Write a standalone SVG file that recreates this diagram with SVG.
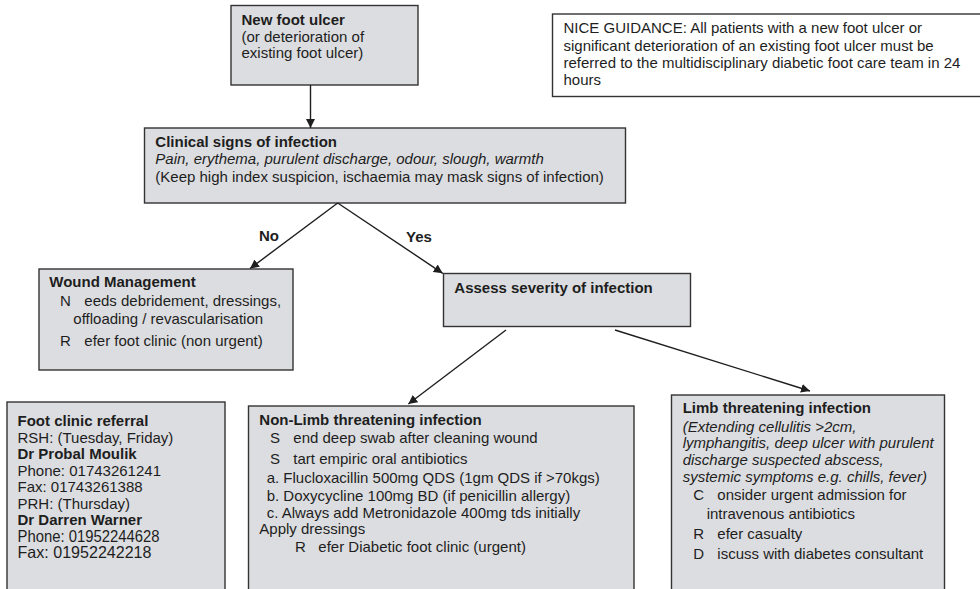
<svg xmlns="http://www.w3.org/2000/svg" width="980" height="589" viewBox="0 0 980 589">
<defs>
<style>
.box{fill:#dcdde0;stroke:#333;stroke-width:1.4}
.nice{fill:#fff;stroke:#333;stroke-width:1.4}
text{font-family:"Liberation Sans",Arial,sans-serif;font-size:15px;fill:#1e1e1e}
.b{font-weight:bold}
.i{font-style:italic}
.big{font-size:16.5px}
.conn line{stroke:#1e1e1e;stroke-width:1.4;fill:none}
</style>
<marker id="ah" viewBox="0 0 10 10" refX="10" refY="5" markerWidth="9" markerHeight="9" markerUnits="userSpaceOnUse" orient="auto">
<path d="M0,0 L10,5 L0,10 z" fill="#1e1e1e"/>
</marker>
</defs>
<rect width="980" height="589" fill="#fff"/>

<g id="new-ulcer">
<rect class="box" x="231" y="5.5" width="187" height="79.5"/>
<text x="241.5" y="25" class="b">New foot ulcer</text>
<text x="241.5" y="41.5">(or deterioration of</text>
<text x="241.5" y="58">existing foot ulcer)</text>
</g>

<g id="nice">
<rect class="nice" x="552.5" y="14" width="430" height="82.5"/>
<text x="563.5" y="33">NICE GUIDANCE: All patients with a new foot ulcer or</text>
<text x="563.5" y="50.5">significant deterioration of an existing foot ulcer must be</text>
<text x="563.5" y="68">referred to the multidisciplinary diabetic foot care team in 24</text>
<text x="563.5" y="85.3">hours</text>
</g>

<g id="clinical">
<rect class="box" x="144.5" y="128" width="481" height="75"/>
<text x="155.3" y="146.7" class="b">Clinical signs of infection</text>
<text x="155.3" y="164" class="i">Pain, erythema, purulent discharge, odour, slough, warmth</text>
<text x="155.3" y="181.7">(Keep high index suspicion, ischaemia may mask signs of infection)</text>
</g>

<g id="wound">
<rect class="box" x="39" y="269" width="254" height="101"/>
<text x="49.3" y="286.7" class="b">Wound Management</text>
<text x="60" y="306">N</text>
<text x="84.3" y="306">eeds debridement, dressings,</text>
<text x="73.3" y="324">offloading / revascularisation</text>
<text x="60" y="346">R</text>
<text x="84.3" y="346">efer foot clinic (non urgent)</text>
</g>

<g id="assess">
<rect class="box" x="443.5" y="273.5" width="247" height="53"/>
<text x="454.3" y="292.7" class="b">Assess severity of infection</text>
</g>

<g id="foot-clinic">
<rect class="box" x="7" y="402" width="218" height="200"/>
<text x="17.5" y="426" class="b">Foot clinic referral</text>
<text x="17.5" y="442.5">RSH: (Tuesday, Friday)</text>
<text x="17.5" y="459" class="b">Dr Probal Moulik</text>
<text x="17.5" y="475.7">Phone: 01743261241</text>
<text x="17.5" y="492">Fax: 01743261388</text>
<text x="17.5" y="508.5">PRH: (Thursday)</text>
<text x="17.5" y="525" class="b">Dr Darren Warner</text>
<text x="17.5" y="541.7" class="big" textLength="142" lengthAdjust="spacingAndGlyphs">Phone: 01952244628</text>
<text x="17.5" y="558.3" class="big" textLength="134" lengthAdjust="spacingAndGlyphs">Fax: 01952242218</text>
</g>

<g id="non-limb">
<rect class="box" x="248.5" y="406" width="385.5" height="200"/>
<text x="259.3" y="425" class="b">Non-Limb threatening infection</text>
<text x="270" y="443.3">S</text>
<text x="293.3" y="443.3">end deep swab after cleaning wound</text>
<text x="270" y="464">S</text>
<text x="293.3" y="464">tart empiric oral antibiotics</text>
<text x="266.7" y="483.3">a. Flucloxacillin 500mg QDS (1gm QDS if &gt;70kgs)</text>
<text x="266.7" y="500.7">b. Doxycycline 100mg BD (if penicillin  allergy)</text>
<text x="266.7" y="517.7">c. Always add Metronidazole 400mg tds initially</text>
<text x="259.3" y="534">Apply dressings</text>
<text x="295" y="551.7">R</text>
<text x="318.3" y="551.7">efer Diabetic foot clinic (urgent)</text>
</g>

<g id="limb">
<rect class="box" x="671.5" y="395" width="273" height="210"/>
<text x="682.7" y="413.3" class="b">Limb threatening infection</text>
<text x="682.7" y="431.7" class="i">(Extending cellulitis &gt;2cm,</text>
<text x="682.7" y="448.3" class="i">lymphangitis, deep ulcer with purulent</text>
<text x="682.7" y="465" class="i">discharge suspected abscess,</text>
<text x="682.7" y="481.7" class="i">systemic symptoms e.g. chills, fever)</text>
<text x="693.3" y="500">C</text>
<text x="717.3" y="500">onsider urgent admission for</text>
<text x="706.7" y="519.3">intravenous antibiotics</text>
<text x="693.3" y="539.3">R</text>
<text x="717.3" y="539.3">efer casualty</text>
<text x="693.3" y="559.3">D</text>
<text x="717.3" y="559.3">iscuss with diabetes consultant</text>
</g>

<g id="connectors" class="conn">
<line x1="310.5" y1="85" x2="310.5" y2="128" marker-end="url(#ah)"/>
<line x1="337.7" y1="203" x2="250" y2="268.5" marker-end="url(#ah)"/>
<line x1="337.7" y1="203" x2="442.7" y2="273.3" marker-end="url(#ah)"/>
<line x1="506" y1="330" x2="408.3" y2="404" marker-end="url(#ah)"/>
<line x1="615" y1="330" x2="810" y2="391" marker-end="url(#ah)"/>
<text x="259" y="241" class="b">No</text>
<text x="406" y="242" class="b">Yes</text>
</g>
</svg>
